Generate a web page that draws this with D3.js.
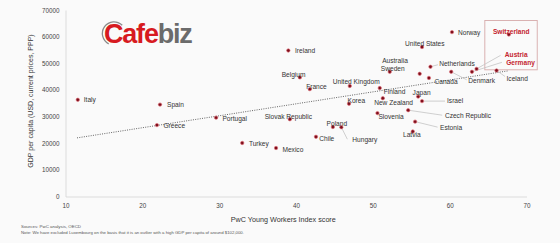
<!doctype html>
<html>
<head>
<meta charset="utf-8">
<script src="https://d3js.org/d3.v7.min.js"></script>
<style>
    body { margin: 0; background: #fafafa; }
    svg { font-family: "Liberation Sans", Arial, sans-serif; }
</style>
</head>
<body>
<script>

    // countries, young workers index score, GDP per capita (PPP)
    var countries = ["Italy", "Spain", "Greece", "Portugal", "Turkey", "Mexico", "Slovak Republic",
        "Chile", "Poland", "Hungary", "Ireland", "Belgium", "France", "United Kingdom", "Korea",
        "Finland", "New Zealand", "Slovenia", "Japan", "Israel", "Czech Republic", "Estonia", "Latvia",
        "Norway", "United States", "Australia", "Sweden", "Netherlands", "Canada", "Denmark",
        "Switzerland", "Austria", "Germany", "Iceland"];
    var scores = [11.6, 22.3, 21.9, 29.6, 33.0, 37.4, 39.2,
        42.6, 44.8, 45.9, 39.0, 40.5, 41.8, 47.0, 46.9,
        50.9, 51.3, 50.6, 55.9, 56.4, 54.6, 55.5, 55.2,
        60.3, 56.4, 56.1, 52.2, 57.5, 57.3, 60.2,
        67.7, 63.5, 62.9, 66.1];
    var gdp = [36300, 34500, 26800, 29600, 20100, 18200, 29000,
        22400, 26100, 26000, 54800, 44700, 40300, 41500, 34800,
        40700, 36900, 31300, 37500, 35800, 32400, 28100, 24400,
        61700, 56100, 46050, 46800, 48700, 44500, 46800,
        60800, 47900, 46800, 47300];
    var highlighted = ["Switzerland", "Austria", "Germany"];

    // dotted trend line end points
    var trendX = [11.5, 67.7];
    var trendY = [22000, 47200];

    var xTicks = [10, 20, 30, 40, 50, 60, 70];
    var yTicks = [0, 10000, 20000, 30000, 40000, 50000, 60000, 70000];

    // label placement (offset from the dot), anchor, optional leader line end
    var labelPos = {
        "Italy": [6, 2.5, "start"],
        "Spain": [7, 2.5, "start"],
        "Greece": [6.5, 2.5, "start"],
        "Portugal": [6.3, 3.5, "start"],
        "Turkey": [6.7, 3.5, "start"],
        "Mexico": [6.4, 3.5, "start"],
        "Slovak Republic": [-1.5, -0.5, "middle"],
        "Chile": [3.3, 3.8, "start"],
        "Poland": [4, -0.5, "middle"],
        "Hungary": [11, 14.6, "start", [6, 12]],
        "Ireland": [6.7, 3, "start"],
        "Belgium": [-6.3, -0.8, "middle"],
        "France": [6.6, 0.2, "middle"],
        "United Kingdom": [6.4, -1.8, "middle"],
        "Korea": [7.3, -0.5, "middle"],
        "Finland": [4, 5.8, "start"],
        "New Zealand": [10.8, 7.2, "middle"],
        "Slovenia": [1, 5.5, "start"],
        "Japan": [3.4, -1.5, "middle"],
        "Israel": [25, 2.3, "start", [23, 0]],
        "Czech Republic": [36.7, 8, "start", [34, 5]],
        "Estonia": [25, 8.8, "start", [22.5, 5.5]],
        "Latvia": [-1, 6, "middle"],
        "Norway": [6, 3, "start"],
        "United States": [2.8, -0.8, "middle"],
        "Australia": [-24.7, -10.5, "middle"],
        "Sweden": [3, -0.8, "middle"],
        "Netherlands": [8.7, -0.5, "start", [7.5, -2]],
        "Canada": [5.6, 5.8, "start"],
        "Denmark": [17, 11.6, "start", [15.5, 8]],
        "Switzerland": [2.4, -0.5, "middle"],
        "Austria": [28.3, -11.8, "start", [24, -13.5]],
        "Germany": [34.3, -7.2, "start", [30, -9.5]],
        "Iceland": [10, 10.5, "start", [8.5, 6]]
    };

    var W = 560, H = 243;
    var svg = d3.select("body").append("svg")
        .attr("width", W)
        .attr("height", H);

    svg.append("rect").attr("width", W).attr("height", H).attr("fill", "#fafafa");

    var x = d3.scaleLinear().domain([10, 70]).range([65.5, 526.5]);
    var y = d3.scaleLinear().domain([0, 70000]).range([196.5, 10]);

    // axes (light lines, no tick marks)
    var xAxis = svg.append("g")
        .attr("transform", "translate(0," + y(0) + ")")
        .call(d3.axisBottom(x).tickValues(xTicks).tickSize(0).tickPadding(7).tickFormat(d3.format("d")));
    var yAxis = svg.append("g")
        .attr("transform", "translate(" + x(10) + ",0)")
        .call(d3.axisLeft(y).tickValues(yTicks).tickSize(0).tickPadding(6).tickFormat(d3.format("d")));
    [xAxis, yAxis].forEach(function (a) {
        a.select(".domain").attr("stroke", "#d4d4d4").attr("stroke-width", 0.8);
        a.selectAll("text").attr("font-size", "6.3px").attr("fill", "#444")
            .attr("font-family", "Liberation Sans, Arial, sans-serif");
    });

    // axis titles
    svg.append("text")
        .attr("x", 283.3).attr("y", 221.5)
        .attr("text-anchor", "middle")
        .attr("font-size", "7.2px").attr("fill", "#333")
        .text("PwC Young Workers Index score");

    svg.append("text")
        .attr("transform", "translate(32.5,101) rotate(-90)")
        .attr("text-anchor", "middle")
        .attr("font-size", "7px").attr("fill", "#333")
        .text("GDP per capita (USD, current prices, PPP)");

    // footnotes
    svg.append("text").attr("x", 21).attr("y", 227.6)
        .attr("font-size", "4.4px").attr("fill", "#555")
        .text("Sources: PwC analysis, OECD");
    svg.append("text").attr("x", 21).attr("y", 234.3)
        .attr("font-size", "4.3px").attr("fill", "#555")
        .text("Note: We have excluded Luxembourg on the basis that it is an outlier with a high GDP per capita of around $102,000.");

    // trend line
    svg.append("line")
        .attr("x1", x(trendX[0])).attr("y1", y(trendY[0]))
        .attr("x2", x(trendX[1])).attr("y2", y(trendY[1]))
        .attr("stroke", "#555")
        .attr("stroke-width", 0.9)
        .attr("stroke-dasharray", "1,1.3");

    var data = countries.map(function (c, i) {
        return {name: c, score: scores[i], gdp: gdp[i], hl: highlighted.indexOf(c) >= 0};
    });

    // highlight box round the labels of the three countries (anchored on Switzerland)
    var sw = data.filter(function (d) { return d.name === "Switzerland"; })[0];
    var bx0 = x(sw.score) - 24,
        bx1 = x(sw.score) + 28.4,
        by0 = y(sw.gdp) - 14,
        by1 = y(sw.gdp) + 35.3;
    svg.append("rect")
        .attr("x", bx0).attr("y", by0)
        .attr("width", bx1 - bx0).attr("height", by1 - by0)
        .attr("fill", "none")
        .attr("stroke", "#d6aaaa")
        .attr("stroke-width", 0.9);

    // leader lines
    svg.append("g").selectAll("line")
        .data(data.filter(function (d) { return labelPos[d.name][3]; }))
        .enter().append("line")
        .attr("x1", function (d) { return x(d.score); })
        .attr("y1", function (d) { return y(d.gdp); })
        .attr("x2", function (d) { return x(d.score) + labelPos[d.name][3][0]; })
        .attr("y2", function (d) { return y(d.gdp) + labelPos[d.name][3][1]; })
        .attr("stroke", "#c4c4c4")
        .attr("stroke-width", 0.8);

    // dots
    svg.append("g").selectAll("circle")
        .data(data)
        .enter().append("circle")
        .attr("cx", function (d) { return x(d.score); })
        .attr("cy", function (d) { return y(d.gdp); })
        .attr("r", 1.7)
        .attr("fill", "#7c0f1c")
        .attr("stroke", "#e06a74")
        .attr("stroke-opacity", 0.7)
        .attr("stroke-width", 0.9);

    // labels
    svg.append("g").selectAll("text")
        .data(data)
        .enter().append("text")
        .attr("x", function (d) { return x(d.score) + labelPos[d.name][0]; })
        .attr("y", function (d) { return y(d.gdp) + labelPos[d.name][1]; })
        .attr("text-anchor", function (d) { return labelPos[d.name][2]; })
        .attr("font-size", "6.6px")
        .attr("font-weight", function (d) { return d.hl ? "bold" : "normal"; })
        .attr("fill", function (d) { return d.hl ? "#c4252f" : "#333"; })
        .text(function (d) { return d.name; });

    // Cafebiz logo
    var logo = svg.append("text")
        .attr("x", 104).attr("y", 43)
        .attr("font-size", "27px")
        .attr("font-weight", "bold")
        .attr("letter-spacing", "-1.2px");
    logo.append("tspan").attr("fill", "#d71a21").text("Cafe");
    logo.append("tspan").attr("fill", "#6b6b6b").text("biz");
    svg.append("path")
        .attr("d", d3.arc()({innerRadius: 11, outerRadius: 12.3, startAngle: Math.PI * 0.15, endAngle: Math.PI * 1.25}))
        .attr("transform", "translate(114,33.5) rotate(180)")
        .attr("fill", "#8a8a8a");

</script>
</body>
</html>
